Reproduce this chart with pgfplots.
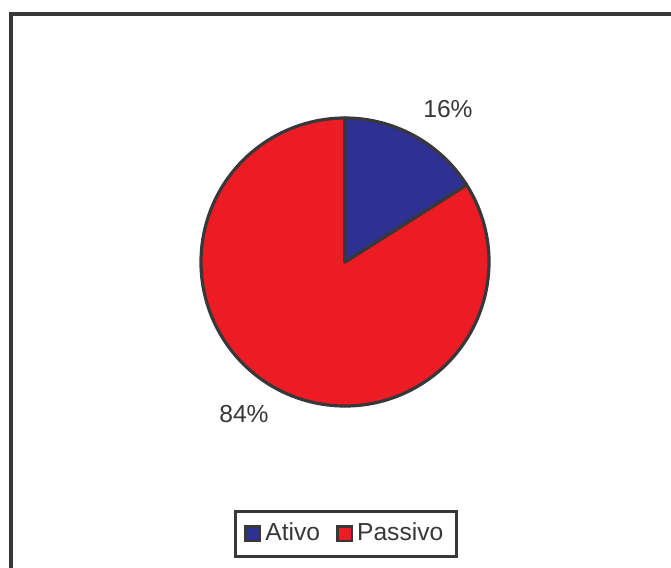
\documentclass[border=0pt]{standalone}
\usepackage{pgfplots}
\pgfplotsset{compat=1.18}
\usepackage{pgfplotstable}
\usepackage{fontspec}
\setmainfont{Liberation Sans}
\definecolor{ativo}{HTML}{2E3192}
\definecolor{passivo}{HTML}{ED1C24}
\definecolor{edge}{HTML}{38373A}
\pgfplotsset{sqlegend/.style={legend image code/.code={\draw[##1, line width=1.3pt] (0pt,-3.6pt) rectangle (7.2pt,3.6pt);}}}
\pgfplotstableread{
label value
Ativo 16
Passivo 84
}\piedata
\begin{document}
\fontsize{12.3}{14}\selectfont
\begin{tikzpicture}
\pgfplotstablegetelem{0}{value}\of\piedata \let\va\pgfplotsretval
\pgfplotstablegetelem{1}{value}\of\piedata \let\vb\pgfplotsretval
\pgfmathsetmacro{\tot}{\va+\vb}
\pgfmathsetmacro{\aA}{90-3.6*(\va/\tot)*100}
\pgfmathsetmacro{\aB}{\aA-3.6*(\vb/\tot)*100}
\useasboundingbox (0,0) rectangle (335.5pt,-284pt);
\draw[overlay, edge, line width=2pt] (5.5pt,-7.2pt) rectangle (345pt,-295pt);
\begin{axis}[
  scale only axis, width=144pt, height=144pt,
  xmin=-1, xmax=1, ymin=-1, ymax=1,
  hide axis, clip=false,
  at={(172.5pt,-131pt)}, anchor=center,
  legend columns=2,
  legend style={at={(0.503,-0.444)}, anchor=center, draw=edge, line width=1.5pt,
    font=\fontsize{12.3}{14}\selectfont, text=edge,
    inner xsep=4.5pt, inner ysep=4pt,
    /tikz/every even column/.append style={column sep=6pt}},
  legend cell align=left,
]
\addlegendimage{sqlegend, fill=ativo, draw=edge}
\addlegendentry{Ativo}
\addlegendimage{sqlegend, fill=passivo, draw=edge}
\addlegendentry{Passivo}
\filldraw[fill=passivo, draw=edge, line width=1.6pt, line join=round]
  (axis cs:0,0) -- ++(\aA:72pt) arc[start angle=\aA, end angle=\aB, radius=72pt] -- cycle;
\filldraw[fill=ativo, draw=edge, line width=1.6pt, line join=round]
  (axis cs:0,0) -- ++(90:72pt) arc[start angle=90, end angle=\aA, radius=72pt] -- cycle;
\end{axis}
\node[text=edge] at (224pt,-54.5pt) {16\%};
\node[text=edge] at (122pt,-207pt) {84\%};
\end{tikzpicture}
\end{document}
